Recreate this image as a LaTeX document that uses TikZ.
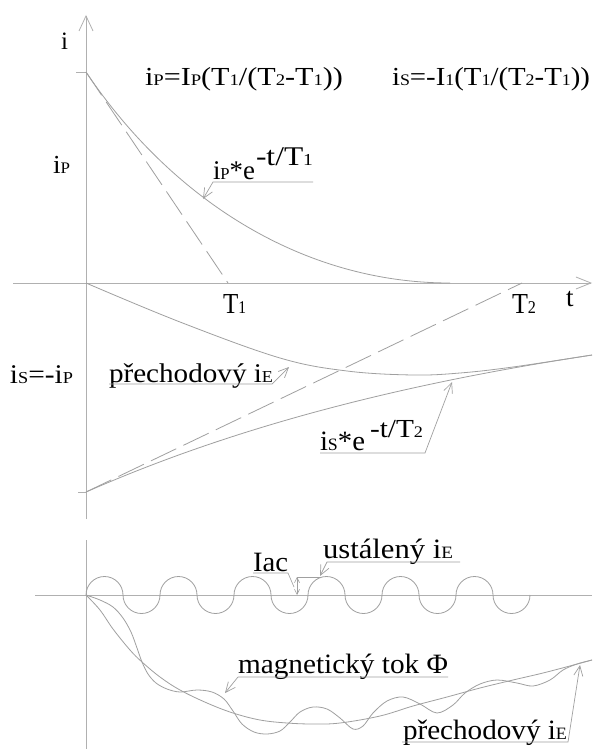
\documentclass[tikz,border=0pt]{standalone}
\usepackage{fontspec}
\setmainfont{Liberation Serif}
\usetikzlibrary{arrows.meta}
\definecolor{lngray}{HTML}{A0A0A0}
\definecolor{axgray}{HTML}{B0B0B0}
\newcommand\sbs[1]{\scalebox{0.62}{#1}}
\newcommand\fitw[2]{\resizebox{#1}{\height}{#2}}
\newcommand\fs[1]{\fontsize{#1}{#1}\selectfont}
\begin{document}
\begin{tikzpicture}[x=1pt,y=-1pt,
  axis/.style={draw=axgray, line width=0.8pt},
  crv/.style={draw=lngray, line width=0.8pt},
  dsh/.style={draw=lngray, line width=0.8pt, dash pattern=on 28pt off 8pt},
  leader/.style={draw=lngray, line width=0.7pt, -{Straight Barb[length=10pt,width=9pt]}},
  lbl/.style={anchor=base west, inner sep=0pt, outer sep=0pt, text=black}]
\useasboundingbox (0,0) rectangle (592,749);
\fill[white] (0,0) rectangle (592,749);
% ---------- upper graph axes
\coordinate (Ytop) at (86,15);
\coordinate (Ybot) at (86,519);
\coordinate (Xl) at (13,283);
\coordinate (Xr) at (592,283);
\coordinate (O) at (86,283);
\draw[axis, -{Straight Barb[length=15pt,width=14pt]}] (Ybot) -- (Ytop);
\draw[axis, -{Straight Barb[length=15pt,width=12pt]}] (Xl) -- (Xr);
\coordinate (tkA) at (76,72); \coordinate (P0) at (86,72);
\coordinate (tkB) at (78,492); \coordinate (S0) at (86,492);
\draw[axis] (tkA) -- (P0);
\draw[axis] (tkB) -- (S0);
% ---------- upper graph curves
\coordinate (T1) at (228,283);
\coordinate (T2) at (522,283);
\coordinate (Pend) at (450,283);
\draw[dsh] (P0) -- (T1);
\draw[dsh] (S0) -- (T2);
\draw[crv] (P0) .. controls (170,197) and (300,283) .. (Pend);
\draw[crv] plot[domain=86:592, samples=60] (\x, {283+209*exp(-(\x-86)/475)});
\draw[crv] plot[smooth, tension=0.6] coordinates {(86,283) (180,322) (280,358) (347,371) (413,375) (460,373) (513,367) (592,355)};
% ---------- upper labels
\node[lbl] (lI) at (61,50) {\fs{25}i};
\node[lbl] (fP) at (145,85) {\fitw{198pt}{\fs{26}i\sbs{P}=I\sbs{P}(T\sbs{1}/(T\sbs{2}-T\sbs{1}))}};
\node[lbl] (fS) at (392,85) {\fitw{198pt}{\fs{26}i\sbs{S}=-I\sbs{1}(T\sbs{1}/(T\sbs{2}-T\sbs{1}))}};
\node[lbl] (lP) at (53,173) {\fitw{17pt}{\fs{26}i\sbs{P}}};
\node[lbl] (eP) at (213,179) {\fitw{42pt}{\fs{27}i\sbs{P}*e}};
\node[lbl] (eP2) at (256,165) {\fitw{57pt}{\fs{27}-t/T\sbs{1}}};
\node[lbl] (lT1) at (223,313) {\fitw{23pt}{\fs{29}T\sbs{1}}};
\node[lbl] (lT2) at (512,313) {\fitw{24pt}{\fs{29}T\sbs{2}}};
\node[lbl] (lt) at (566,306) {\fs{27}t};
\node[lbl] (lS) at (10,383) {\fitw{63pt}{\fs{27}i\sbs{S}=-i\sbs{P}}};
\node[lbl] (pE1) at (109,382) {\fitw{164pt}{\fs{27}přechodový i\sbs{E}}};
\node[lbl] (eS) at (320,450) {\fitw{45pt}{\fs{28}i\sbs{S}*e}};
\node[lbl] (eS2) at (370,437) {\fitw{53pt}{\fs{26}-t/T\sbs{2}}};
% leaders upper
\coordinate (uP1) at (313,182); \coordinate (uP2) at (213,182); \coordinate (aP) at (203,199);
\draw[leader] (uP1) -- (uP2) -- (aP);
\coordinate (uE1) at (109,384); \coordinate (uE2) at (272,384); \coordinate (aE) at (289,367);
\draw[leader] (uE1) -- (uE2) -- (aE);
\coordinate (uS1) at (320,453); \coordinate (uS2) at (425,453); \coordinate (aS) at (452,382);
\draw[leader] (uS1) -- (uS2) -- (aS);
% ---------- lower graph axes
\coordinate (Y2t) at (86,540); \coordinate (Y2b) at (86,749);
\coordinate (X2l) at (35,595); \coordinate (X2r) at (592,595);
\draw[axis] (Y2t) -- (Y2b);
\draw[axis] (X2l) -- (X2r);
% steady wave
\coordinate (W0) at (86,595);
\draw[crv] (W0) \foreach \k in {1,...,6} { arc[start angle=180, end angle=0, radius=18.5pt] arc[start angle=180, end angle=360, radius=18.5pt] };
% transient smooth
\draw[crv] plot[smooth, tension=0.6] coordinates {(86,595) (100,610) (113,629) (130,650) (142,662) (160,677) (180,690) (207,703) (233,713) (260,720) (287,723) (313,724) (340,723) (380,716) (413,706) (447,697) (480,688) (513,680) (547,672) (592,660)};
% flux wavy
\draw[crv] plot[smooth, tension=0.55] coordinates {(86,595) (100,600) (113,607) (123,618) (131,632) (137,648) (142,662) (148,674) (156,683) (167,689) (180,692) (197,690) (212,692) (224,699) (233,711) (242,724) (254,732) (267,734) (280,731) (290,722) (300,712) (313,707) (327,709) (340,718) (353,729) (363,726) (373,713) (387,701) (403,697) (420,704) (437,713) (453,705) (465,693) (480,684) (497,680) (517,683) (533,686) (550,680) (563,670) (577,664) (592,660)};
% Iac dimension
\coordinate (dT) at (297,577); \coordinate (dB) at (297,595); \coordinate (dE) at (320,577);
\draw[crv, line width=0.6pt, {Straight Barb[length=5pt,width=5pt]}-{Straight Barb[length=5pt,width=5pt]}] (dT) -- (dB);
\draw[crv, line width=0.6pt] (dT) -- (dE);
% lower labels
\node[lbl] (lIac) at (253,571) {\fitw{35pt}{\fs{28}Iac}};
\node[lbl] (lUs) at (323,558) {\fitw{130pt}{\fs{28}ustálený i\sbs{E}}};
\node[lbl] (lMg) at (238,673) {\fitw{210pt}{\fs{28}magnetický tok Φ}};
\node[lbl] (pE2) at (403,739) {\fitw{164pt}{\fs{28}přechodový i\sbs{E}}};
\coordinate (uI1) at (253,573); \coordinate (uI2) at (288,573); \coordinate (aI) at (294,587);
\draw[crv, line width=0.6pt] (uI1) -- (uI2) -- (aI);
\coordinate (uU1) at (460,562); \coordinate (uU2) at (327,562); \coordinate (aU) at (320,576);
\draw[leader] (uU1) -- (uU2) -- (aU);
\coordinate (uM1) at (448,677); \coordinate (uM2) at (238,677); \coordinate (aM) at (225,693);
\draw[leader] (uM1) -- (uM2) -- (aM);
\coordinate (uL1) at (402,742); \coordinate (uL2) at (568,742); \coordinate (aL) at (580,665);
\draw[leader] (uL1) -- (uL2) -- (aL);
\end{tikzpicture}
\end{document}
